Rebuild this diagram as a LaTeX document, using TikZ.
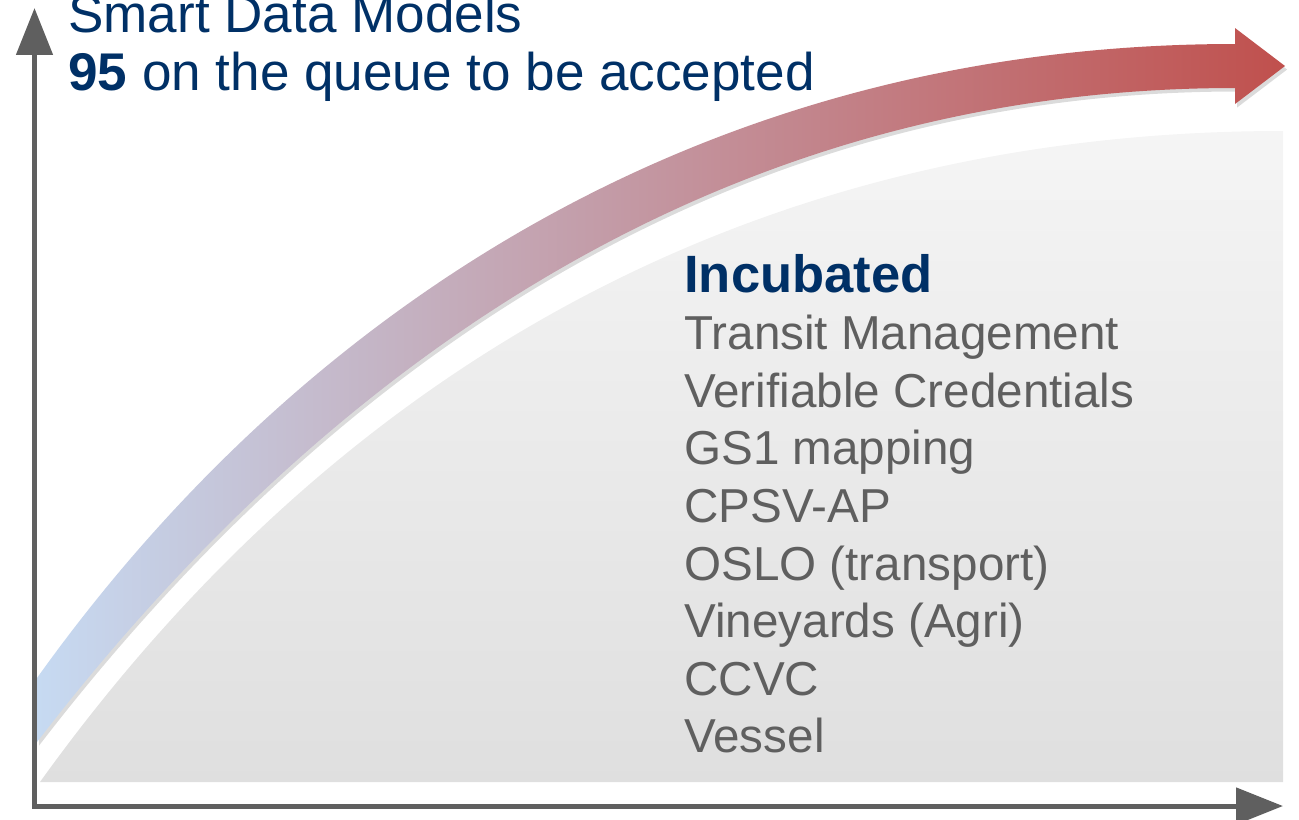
\documentclass[tikz,border=0pt]{standalone}
\usepackage{fontspec}
\setmainfont{Liberation Sans}
\usetikzlibrary{arrows.meta,shadows,positioning}
\definecolor{sdmblue}{RGB}{0,48,102}
\definecolor{sdmgray}{RGB}{95,95,95}
\definecolor{sdmsky}{RGB}{198,218,242}
\definecolor{sdmred}{RGB}{192,80,77}
\tikzset{axisline/.style={line width=0.1cm,draw=sdmgray,line join=miter,
    {Triangle[length=0.94cm,width=0.72cm]}-{Triangle[length=0.94cm,width=0.72cm]}}}
\tikzstyle{itemtext} = [anchor=base west, inner sep=0pt, text=sdmgray, font=\fontsize{27.1}{32}\selectfont]

\begin{document}
\begin{tikzpicture}[x=0.02cm,y=-0.02cm,
    headtext/.style={anchor=base west, inner sep=0pt, text=sdmblue, font=\fontsize{30.2}{34}\selectfont},
    area/.style={top color=black!4, bottom color=black!12.5},
    bigarrow/.style={left color=sdmsky, right color=sdmred,
        drop shadow={shadow xshift=1.2pt, shadow yshift=-2pt, opacity=0.2, fill=black!70}}]

    \useasboundingbox (0,0) rectangle (1299,819);

    \shade[area] (40,782) .. controls (290,434) and (683,131) .. (1283,131) -- (1283,782) -- cycle;

    \shade[bigarrow] (37,678) .. controls (287,328) and (685,44) .. (1235,44) -- (1235,28) -- (1285,66)
        -- (1235,104) -- (1235,88) .. controls (685,88) and (297,404) .. (37,742) -- cycle;

    \coordinate (origin) at (34.5,806);
    \coordinate (ytip) at (34.5,8);
    \coordinate (xtip) at (1283,806);
    \draw[axisline] (ytip) -- (origin) -- (xtip);

    \node[headtext] (title) at (68,32) {Smart Data Models};
    \node[headtext] (queue) at (68,90) {\textbf{95} on the queue to be accepted};

    \node[headtext, font=\fontsize{29.9}{34}\selectfont\bfseries] (incubated) at (684,292) {Incubated};
    \foreach \name [count=\i] in {Transit Management, Verifiable Credentials, GS1 mapping, CPSV-AP,
        OSLO (transport), Vineyards (Agri), CCVC, Vessel}
        \node[itemtext] (item\i) at (684,292+57.6*\i) {\name};
\end{tikzpicture}
\end{document}
